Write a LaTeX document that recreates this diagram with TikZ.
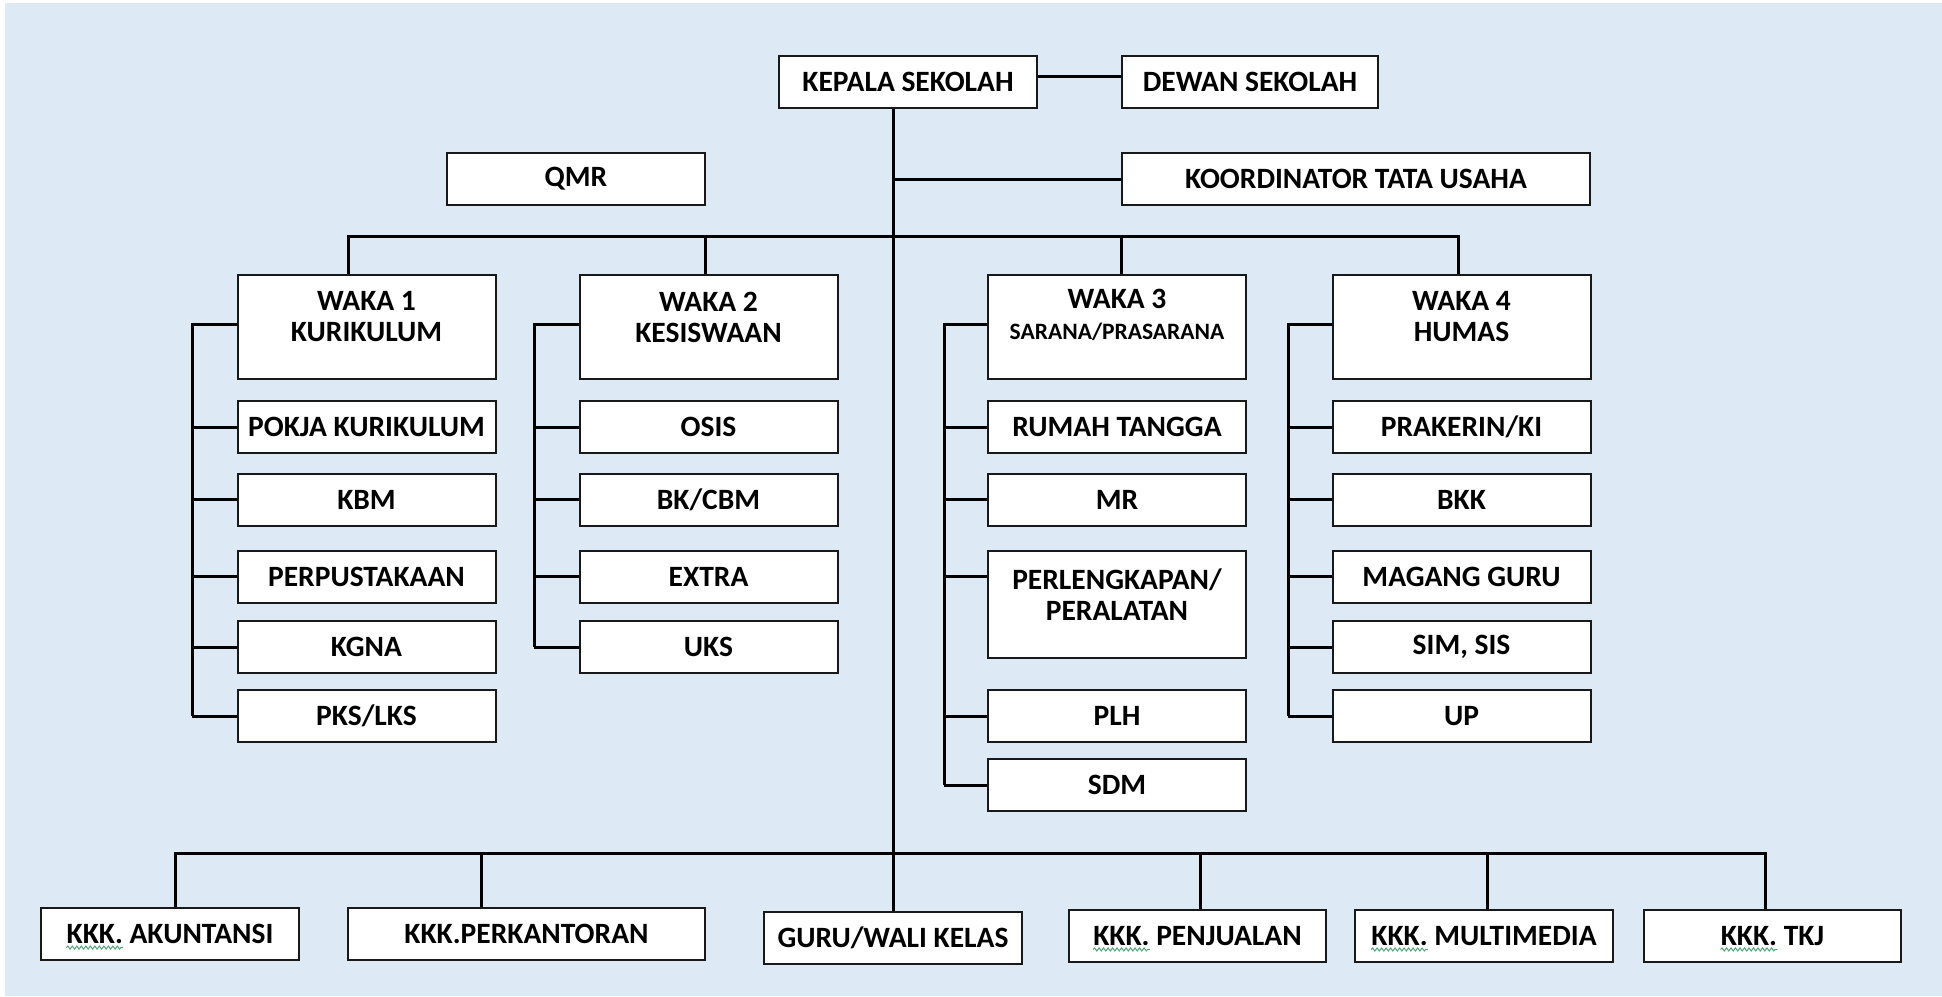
\documentclass[tikz,border=0pt]{standalone}
\usepackage{fontspec}
\newfontfamily\cali{Carlito}
\usetikzlibrary{decorations.pathmorphing}
\definecolor{bg}{RGB}{222,233,246}
\definecolor{wavecol}{RGB}{80,165,120}
\newcommand\boxfont{\cali\bfseries\fontsize{29.5}{31}\selectfont}
\newcommand\smallfont{\cali\bfseries\fontsize{23.5}{26}\selectfont}
\tikzset{
  box/.style={draw=black!90, line width=2pt, fill=white, inner sep=0pt,
    minimum width=258pt, minimum height=52pt, font=\boxfont, align=center},
  tall/.style={box, minimum height=104pt},
  btext/.style={inner sep=0pt, font=\boxfont, align=center},
  conn/.style={line width=3pt, draw=black},
  wavy/.style={draw=wavecol, line width=1pt, decorate,
    decoration={snake, segment length=4.5pt, amplitude=1.5pt}},
}
\begin{document}
\begin{tikzpicture}[x=1pt,y=-1pt]
\useasboundingbox (0,0) rectangle (1942,996);
\fill[white] (0,0) rectangle (1942,996);
\fill[bg] (5,3) rectangle (1942,996);

% top
\node[box] (kepala) at (908,82) {KEPALA SEKOLAH};
\node[box, minimum width=256pt] (dewan) at (1250,82) {DEWAN SEKOLAH};
\node[box] (qmr) at (576,179) {QMR};
\node[box, minimum width=468pt] (koord) at (1356,179) {KOORDINATOR TATA USAHA};

% waka boxes
\node[tall] (w1) at (366.5,326.5) {};
\node[btext] (w1t) at (366.5,317) {WAKA 1\\KURIKULUM};
\node[tall] (w2) at (708.5,326.5) {};
\node[btext] (w2t) at (708.5,317) {WAKA 2\\KESISWAAN};
\node[tall] (w3) at (1117,326.5) {};
\node[btext] (w3t) at (1117,315) {WAKA 3\\{\smallfont SARANA/PRASARANA}};
\node[tall] (w4) at (1461.5,326.5) {};
\node[btext] (w4t) at (1461.5,317) {WAKA 4\\HUMAS};

% waka 1 children
\node[box] (pokja) at (366.5,427) {POKJA KURIKULUM};
\node[box] (kbm) at (366.5,499.5) {KBM};
\node[box] (perpus) at (366.5,576.5) {PERPUSTAKAAN};
\node[box] (kgna) at (366.5,647) {KGNA};
\node[box] (pks) at (366.5,716) {PKS/LKS};
% waka 2 children
\node[box] (osis) at (708.5,427) {OSIS};
\node[box] (bk) at (708.5,499.5) {BK/CBM};
\node[box] (extra) at (708.5,576.5) {EXTRA};
\node[box] (uks) at (708.5,647) {UKS};
% waka 3 children
\node[box] (rumah) at (1117,427) {RUMAH TANGGA};
\node[box] (mr) at (1117,499.5) {MR};
\node[box, minimum height=107pt] (perl) at (1117,604.5) {};
\node[btext] (perlt) at (1117,594.5) {PERLENGKAPAN/\\PERALATAN};
\node[box] (plh) at (1117,716) {PLH};
\node[box] (sdm) at (1117,785) {SDM};
% waka 4 children
\node[box] (prak) at (1461.5,427) {PRAKERIN/KI};
\node[box] (bkk) at (1461.5,499.5) {BKK};
\node[box] (magang) at (1461.5,576.5) {MAGANG GURU};
\node[box] (sim) at (1461.5,647) {SIM, SIS};
\node[box] (up) at (1461.5,716) {UP};

% bottom row
\node[box] (akun) at (170,934) {};
\node[btext] (akunt) at (170,934) {KKK. AKUNTANSI};
\node[box, minimum width=357pt] (perk) at (526.5,934) {KKK.PERKANTORAN};
\node[box] (guru) at (893,938) {GURU/WALI KELAS};
\node[box, minimum width=257pt] (penj) at (1197.5,936) {};
\node[btext] (penjt) at (1197.5,936) {KKK. PENJUALAN};
\node[box] (multi) at (1484,936) {};
\node[btext] (multit) at (1484,936) {KKK. MULTIMEDIA};
\node[box, minimum width=257pt] (tkj) at (1772.5,936) {};
\node[btext] (tkjt) at (1772.5,936) {KKK. TKJ};

% wavy underlines under KKK.
\foreach \t/\k in {akunt/k1, penjt/k2, multit/k3, tkjt/k4}{
  \node[inner sep=0pt, anchor=base west, font=\boxfont] (\k) at (\t.base west) {\phantom{KKK.}};
  \draw[wavy] ([yshift=-4pt]\k.base west) -- ([yshift=-4pt]\k.base east);
}

% connectors
\coordinate (tr) at (893,0);
\coordinate (kd) at (0,76);
\draw[conn] (kepala.east |- kd) -- (dewan.west |- kd);
\draw[conn] (tr |- kepala.south) -- (tr |- guru.north);
\draw[conn] (tr |- koord.west) -- (koord.west);

\coordinate (b1) at (348,236);
\coordinate (b2) at (705,236);
\coordinate (b3) at (1121,236);
\coordinate (b4) at (1458,236);
\draw[conn] (b1 |- w1.north) -- (b1) -- (b4) -- (b4 |- w4.north);
\draw[conn] (b2) -- (b2 |- w2.north);
\draw[conn] (b3) -- (b3 |- w3.north);

\coordinate (s1) at (192,324);
\coordinate (s2) at (534,324);
\coordinate (s3) at (944,324);
\coordinate (s4) at (1288,324);
\draw[conn] (w1.west |- s1) -- (s1) -- (s1 |- pks.west);
\draw[conn] (w2.west |- s2) -- (s2) -- (s2 |- uks.west);
\draw[conn] (w3.west |- s3) -- (s3) -- (s3 |- sdm.west);
\draw[conn] (w4.west |- s4) -- (s4) -- (s4 |- up.west);
\foreach \n in {pokja,kbm,perpus,kgna,pks} \draw[conn] (s1 |- \n.west) -- (\n.west);
\foreach \n in {osis,bk,extra,uks} \draw[conn] (s2 |- \n.west) -- (\n.west);
\foreach \n in {rumah,mr,plh,sdm} \draw[conn] (s3 |- \n.west) -- (\n.west);
\draw[conn] (s3 |- magang.west) -- (perl.west |- magang.west);
\foreach \n in {prak,bkk,magang,sim,up} \draw[conn] (s4 |- \n.west) -- (\n.west);

\coordinate (c1) at (175,853);
\coordinate (c2) at (481,853);
\coordinate (c4) at (1200,853);
\coordinate (c5) at (1487,853);
\coordinate (c6) at (1765,853);
\draw[conn] (c1 |- akun.north) -- (c1) -- (c6) -- (c6 |- tkj.north);
\draw[conn] (c2) -- (c2 |- perk.north);
\draw[conn] (c4) -- (c4 |- penj.north);
\draw[conn] (c5) -- (c5 |- multi.north);
\end{tikzpicture}
\end{document}
